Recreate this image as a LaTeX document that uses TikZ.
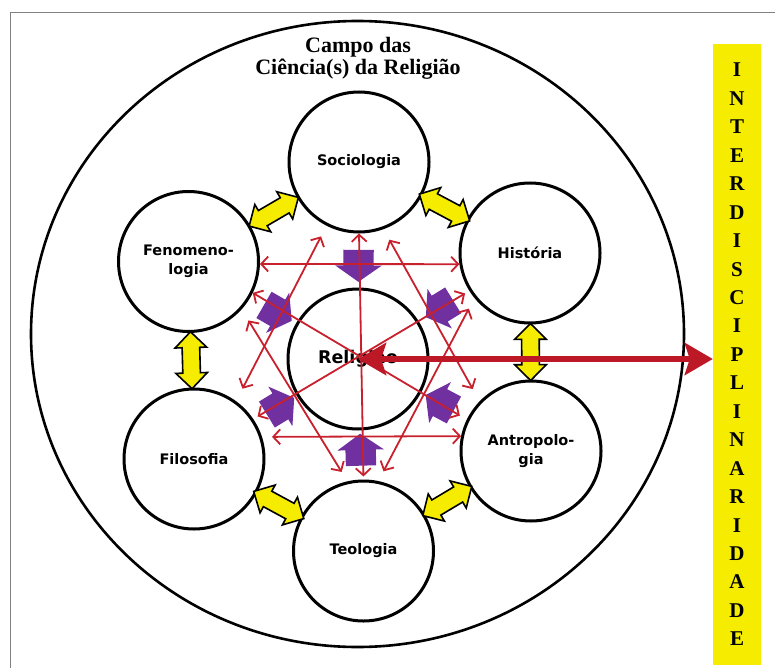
\documentclass[tikz,border=0pt]{standalone}
\usepackage{fontspec}
\setmainfont{Liberation Serif}
\newfontfamily\discfont{DejaVu Sans}
\usetikzlibrary{arrows.meta,shapes.arrows}
\definecolor{crgyellow}{RGB}{245,236,0}
\definecolor{crgpurple}{RGB}{112,48,160}
\definecolor{crgred}{RGB}{200,32,44}
\definecolor{crgdark}{RGB}{188,24,38}

\begin{document}
\begin{tikzpicture}[x=1pt,y=-1pt,
  disc/.style={circle,draw,line width=3pt,fill=white,minimum size=140pt,inner sep=0pt,align=center,font=\discfont\bfseries\fontsize{14.5}{19}\selectfont},
  yarrow/.style={double arrow,draw,line width=1.6pt,fill=crgyellow,sloped,allow upside down,inner xsep=0pt,inner ysep=8pt,double arrow head extend=7pt,minimum height=57pt},
  parrow/.style={single arrow,fill=crgpurple,sloped,allow upside down,inner xsep=0pt,inner ysep=15pt,single arrow head extend=8pt,single arrow tip angle=110,minimum height=32pt},
  rline/.style={crgred,line width=1.8pt,{Straight Barb[length=7pt,width=15pt]}-{Straight Barb[length=7pt,width=15pt]}},
  bigline/.style={crgdark,line width=6pt,{Stealth[length=28pt,width=32pt,inset=5pt]}-{Stealth[length=28pt,width=32pt,inset=5pt]}}]
  \useasboundingbox (0,0) rectangle (775,668);
  \draw[gray,line width=1pt] (10,668) -- (10,13) -- (775,13);
  \draw[line width=2.6pt] (357.5,334) ellipse [x radius=326.5,y radius=313];
  \node[font=\bfseries\fontsize{22}{22}\selectfont,align=center,inner sep=0pt] (title) at (358,58) {Campo das\\Ciência(s) da Religião};

  \node[disc] (soc) at (359,162) {Sociologia};
  \node[disc] (his) at (530,253) {História};
  \node[disc] (ant) at (531,451) {Antropolo-\\gia};
  \node[disc] (teo) at (363.5,551) {Teologia};
  \node[disc] (fil) at (194,459) {Filosofia};
  \node[disc] (fen) at (188.5,261.5) {Fenomeno-\\logia};
  \node[disc,font=\discfont\bfseries\fontsize{17.5}{20}\selectfont] (rel) at (358,359) {Religião};

  \foreach \a/\b in {fen/soc,soc/his,his/ant,ant/teo,teo/fil,fil/fen}
    \path (\a) -- node[yarrow] {} (\b);
  \foreach \a in {soc,his,ant,teo,fil,fen}
    \path (\a) -- node[parrow] {} (rel);

  \foreach \a/\b/\s/\t in {fen.358/his.189/0/0,fil.18/ant.168/10/0,soc.south/teo.north/0/3,
      soc.243/fil.54/12/14,soc.290/ant.136/12/14,fen.318/teo.103/13/11,his.219/teo.78/12/11,
      fen.334/ant.154/0/8,his.212/fil.34/5/5}
    \draw[rline,shorten <=\s pt,shorten >=\t pt] (\a) -- (\b);

  \node[fill=crgyellow,minimum width=48pt,minimum height=621pt,inner sep=0pt,align=center,
    font=\bfseries\fontsize{21}{28.45}\selectfont] (bar) at (737,354.5)
    {I\\N\\T\\E\\R\\D\\I\\S\\C\\I\\P\\L\\I\\N\\A\\R\\I\\D\\A\\D\\E};
  \draw[bigline] (rel.center) -- (rel.center -| bar.west);
\end{tikzpicture}
\end{document}
